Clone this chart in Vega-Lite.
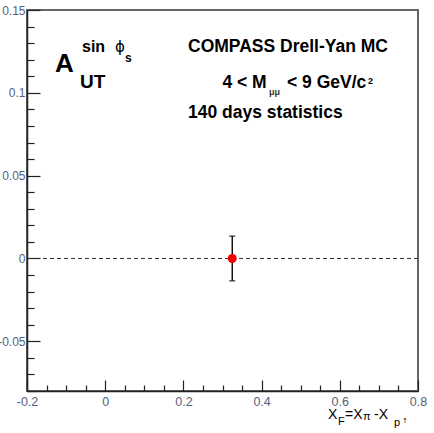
{
  "$schema": "https://vega.github.io/schema/vega-lite/v6.json",
  "width": 391,
  "height": 381,
  "autosize": {"type": "none"},
  "padding": {"left": 27, "top": 10, "right": 16, "bottom": 42},
  "background": "white",
  "config": {
    "view": {"stroke": "#666", "strokeWidth": 2},
    "font": "Liberation Sans",
    "text": {"font": "Liberation Sans", "align": "left", "baseline": "alphabetic", "color": "black"}
  },
  "data": {"values": [{"xF": 0.325, "A": 0.0, "lo": -0.0135, "hi": 0.0135}]},
  "encoding": {
    "x": {
      "type": "quantitative",
      "scale": {"domain": [-0.2, 0.8], "nice": false, "zero": false},
      "axis": {
        "title": null,
        "grid": false,
        "values": [-0.2, -0.15, -0.1, -0.05, 0, 0.05, 0.1, 0.15, 0.2, 0.25, 0.3, 0.35, 0.4, 0.45, 0.5, 0.55, 0.6, 0.65, 0.7, 0.75, 0.8],
        "labelExpr": "abs(datum.value*5 - round(datum.value*5)) < 1e-6 ? (abs(datum.value) < 1e-9 ? '0' : replace(format(datum.value, '.1f'), '\u2212', '-')) : ''",
        "tickSize": {"condition": {"test": "abs(datum.value*5 - round(datum.value*5)) < 1e-6", "value": -11}, "value": -6},
        "tickColor": "#222",
        "tickWidth": 1.2,
        "domainColor": "#222",
        "domainWidth": 1.5,
        "labelFont": "Liberation Sans",
        "labelFontSize": 12.5,
        "labelColor": "#55607e",
        "labelPadding": 15,
        "labelFlush": false,
        "labelOverlap": false
      }
    },
    "y": {
      "type": "quantitative",
      "scale": {"domain": [-0.08, 0.15], "nice": false, "zero": false},
      "axis": {
        "title": null,
        "grid": false,
        "values": [-0.08, -0.07, -0.06, -0.05, -0.04, -0.03, -0.02, -0.01, 0, 0.01, 0.02, 0.03, 0.04, 0.05, 0.06, 0.07, 0.08, 0.09, 0.1, 0.11, 0.12, 0.13, 0.14, 0.15],
        "labelExpr": "abs(datum.value*20 - round(datum.value*20)) < 1e-6 ? (abs(datum.value) < 1e-9 ? '0' : replace(format(datum.value, '~g'), '\u2212', '-')) : ''",
        "tickSize": {"condition": {"test": "abs(datum.value*20 - round(datum.value*20)) < 1e-6", "value": -13}, "value": -7},
        "tickColor": "#222",
        "tickWidth": 1.2,
        "domainColor": "#222",
        "domainWidth": 1.5,
        "labelFont": "Liberation Sans",
        "labelFontSize": 12,
        "labelColor": "#55607e",
        "labelPadding": 15,
        "labelFlush": false,
        "labelOverlap": false
      }
    }
  },
  "layer": [
    {
      "mark": {"type": "rule", "color": "#333", "strokeDash": [4, 3], "strokeWidth": 1},
      "encoding": {"y": {"datum": 0, "type": "quantitative"}, "x": null}
    },
    {
      "mark": {"type": "rule", "color": "#111", "strokeWidth": 1.5},
      "encoding": {"x": {"field": "xF"}, "y": {"field": "lo"}, "y2": {"field": "hi"}}
    },
    {
      "mark": {"type": "tick", "orient": "horizontal", "color": "#111", "size": 6, "thickness": 1.5},
      "encoding": {"x": {"field": "xF"}, "y": {"field": "lo"}}
    },
    {
      "mark": {"type": "tick", "orient": "horizontal", "color": "#111", "size": 6, "thickness": 1.5},
      "encoding": {"x": {"field": "xF"}, "y": {"field": "hi"}}
    },
    {
      "mark": {"type": "circle", "color": "#f00000", "size": 80, "opacity": 1},
      "encoding": {"x": {"field": "xF"}, "y": {"field": "A"}}
    },
    {"mark": {"type": "text", "text": "A", "fontSize": 26, "fontWeight": "bold"},
     "encoding": {"x": {"datum": -0.1284}, "y": {"datum": 0.1127}}},
    {"mark": {"type": "text", "text": "UT", "fontSize": 19, "fontWeight": "bold"},
     "encoding": {"x": {"datum": -0.0644}, "y": {"datum": 0.1030}}},
    {"mark": {"type": "text", "text": "sin", "fontSize": 16, "fontWeight": "bold"},
     "encoding": {"x": {"datum": -0.0593}, "y": {"datum": 0.1247}}},
    {"mark": {"type": "text", "text": "ϕ", "font": "DejaVu Sans", "fontSize": 15},
     "encoding": {"x": {"datum": 0.0251}, "y": {"datum": 0.1247}}},
    {"mark": {"type": "text", "text": "s", "fontSize": 12, "fontWeight": "bold"},
     "encoding": {"x": {"datum": 0.0506}, "y": {"datum": 0.1187}}},
    {"mark": {"type": "text", "text": "COMPASS Drell-Yan MC", "fontSize": 17.5, "fontWeight": "bold"},
     "encoding": {"x": {"datum": 0.2118}, "y": {"datum": 0.1247}}},
    {"mark": {"type": "text", "text": "4 < M", "fontSize": 17.5, "fontWeight": "bold"},
     "encoding": {"x": {"datum": 0.2997}, "y": {"datum": 0.1030}}},
    {"mark": {"type": "text", "text": "μμ", "fontSize": 9, "fontWeight": "bold", "color": "#333"},
     "encoding": {"x": {"datum": 0.4190}, "y": {"datum": 0.0988}}},
    {"mark": {"type": "text", "text": "< 9 GeV/c", "fontSize": 17.5, "fontWeight": "bold"},
     "encoding": {"x": {"datum": 0.4650}, "y": {"datum": 0.1030}}},
    {"mark": {"type": "text", "text": "2", "fontSize": 9, "fontWeight": "bold"},
     "encoding": {"x": {"datum": 0.6720}, "y": {"datum": 0.1054}}},
    {"mark": {"type": "text", "text": "140 days statistics", "fontSize": 17.5, "fontWeight": "bold"},
     "encoding": {"x": {"datum": 0.2118}, "y": {"datum": 0.0849}}},
    {"mark": {"type": "text", "text": "X", "fontSize": 14},
     "encoding": {"x": {"datum": 0.5698}, "y": {"datum": -0.0970}}},
    {"mark": {"type": "text", "text": "F", "fontSize": 11},
     "encoding": {"x": {"datum": 0.5954}, "y": {"datum": -0.1006}}},
    {"mark": {"type": "text", "text": "=X", "fontSize": 14},
     "encoding": {"x": {"datum": 0.6133}, "y": {"datum": -0.0970}}},
    {"mark": {"type": "text", "text": "π", "fontSize": 11},
     "encoding": {"x": {"datum": 0.6594}, "y": {"datum": -0.0976}}},
    {"mark": {"type": "text", "text": "-X", "fontSize": 14},
     "encoding": {"x": {"datum": 0.6875}, "y": {"datum": -0.0970}}},
    {"mark": {"type": "text", "text": "p", "fontSize": 11},
     "encoding": {"x": {"datum": 0.7385}, "y": {"datum": -0.1012}}},
    {"mark": {"type": "text", "text": "↑", "font": "DejaVu Sans", "fontSize": 7},
     "encoding": {"x": {"datum": 0.7590}, "y": {"datum": -0.0994}}}
  ]
}
